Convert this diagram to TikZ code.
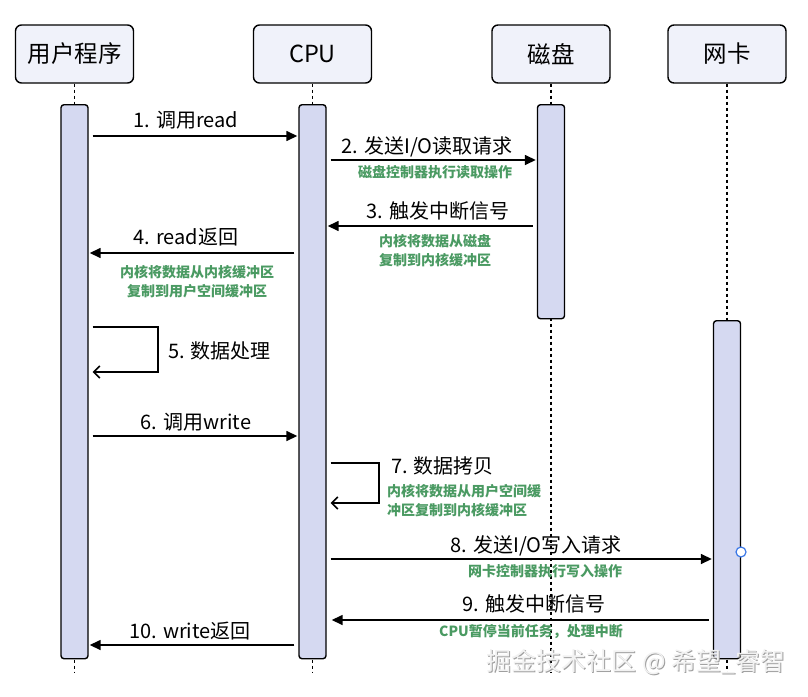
\documentclass[tikz,border=0pt]{standalone}
\usepackage{fontspec}
\setmainfont{Noto Sans CJK SC}
\usetikzlibrary{arrows.meta}
\definecolor{headfill}{HTML}{F0F2FA}
\definecolor{barfill}{HTML}{D5D9F1}
\definecolor{notegreen}{HTML}{4A9A62}
\definecolor{handle}{HTML}{3B78E7}
\begin{document}
\begin{tikzpicture}[x=1pt,y=-1pt,
  head/.style={draw,line width=1.4pt,rounded corners=6pt,fill=headfill,minimum width=118pt,minimum height=58pt,font=\fontsize{23.5}{26}\selectfont,inner sep=0pt},
  bar/.style={draw,line width=1.4pt,rounded corners=3pt,fill=barfill,minimum width=27pt,anchor=north,inner sep=0pt},
  life/.style={line width=1.4pt,dash pattern=on 3pt off 3pt},
  msg/.style={line width=1.5pt,-{Triangle[length=11pt,width=10pt]},shorten <=4pt,shorten >=1pt},
  selfmsg/.style={line width=1.5pt,-{Straight Barb[length=6pt,width=12pt]},shorten <=4pt,shorten >=4pt},
  lbl/.style={font=\fontsize{20}{22}\selectfont,inner sep=0pt},
  note/.style={font=\fontsize{14}{19}\selectfont\bfseries,text=notegreen,inner sep=0pt,align=center},
]
\useasboundingbox[fill=white] (0,0) rectangle (808,696);

% heads
\node[head] (h1) at (74.5,54) {用户程序};
\node[head] (h2) at (312.5,54) {CPU};
\node[head] (h3) at (551,54) {磁盘};
\node[head] (h4) at (727,54) {网卡};

% lifelines
\foreach \h in {h1,h2,h3,h4}{
  \draw[life] (\h.south) -- (\h.south |- 0,672);
}

% activation bars
\node[bar,minimum height=554pt] (b1) at (74.5,104) {};
\node[bar,minimum height=554pt] (b2) at (312.5,104) {};
\node[bar,minimum height=214pt] (b3) at (551,104) {};
\node[bar,minimum height=338pt] (b4) at (727,320) {};

% 1
\draw[msg] (b1.east |- 0,136) -- (b2.west |- 0,136);
\node[lbl] (l1) at (186,120) {1. 调用read};
% 2
\draw[msg] (b2.east |- 0,160) -- (b3.west |- 0,160);
\node[lbl] (l2) at (427,147) {2. 发送I/O读取请求};
\node[note] (n2) at (435,172) {磁盘控制器执行读取操作};
% 3
\draw[msg] (b3.west |- 0,226) -- (b2.east |- 0,226);
\node[lbl] (l3) at (438,211) {3. 触发中断信号};
\node[note] (n3) at (435,251) {内核将数据从磁盘\\复制到内核缓冲区};
% 4
\draw[msg] (b2.west |- 0,253) -- (b1.east |- 0,253);
\node[lbl] (l4) at (186,237) {4. read返回};
\node[note] (n4) at (197,282) {内核将数据从内核缓冲区\\复制到用户空间缓冲区};
% 5
\coordinate (c5) at (158,327);
\draw[selfmsg] (b1.east |- 0,327) -- (c5) -- (c5 |- 0,372) -- (b1.east |- 0,372);
\node[lbl,anchor=west] (l5) at (168,351) {5. 数据处理};
% 6
\draw[msg] (b1.east |- 0,436) -- (b2.west |- 0,436);
\node[lbl] (l6) at (196,422) {6. 调用write};
% 7
\coordinate (c7) at (379,463);
\draw[selfmsg] (b2.east |- 0,463) -- (c7) -- (c7 |- 0,503) -- (b2.east |- 0,503);
\node[lbl,anchor=west] (l7) at (391,466) {7. 数据拷贝};
\node[note,anchor=west,align=left] (n7) at (387,500.5) {内核将数据从用户空间缓\\冲区复制到内核缓冲区};
% 8
\draw[msg] (b2.east |- 0,559) -- (b4.west |- 0,559);
\node[lbl] (l8) at (536,546) {8. 发送I/O写入请求};
\node[note] (n8) at (545,571) {网卡控制器执行写入操作};
% 9
\draw[msg,shorten >=5pt] (b4.west |- 0,620) -- (b2.east |- 0,620);
\node[lbl] (l9) at (534,604) {9. 触发中断信号};
\node[note] (n9) at (531,632) {CPU暂停当前任务，处理中断};
% 10
\draw[msg] (b2.west |- 0,645) -- (b1.east |- 0,645);
\node[lbl] (l10) at (190,631) {10. write返回};

% selection handle
\node[circle,draw=handle,fill=white,line width=1.2pt,minimum size=10pt,inner sep=0pt] (hd) at (741,552) {};

% watermark
\node[font=\fontsize{25}{27}\selectfont,text=gray!75,anchor=east,inner sep=0pt] (wm0) at (787,663) {掘金技术社区 @ 希望\_睿智};
\node[font=\fontsize{25}{27}\selectfont,text=white!90!gray,anchor=east,inner sep=0pt] (wm) at (786,662) {掘金技术社区 @ 希望\_睿智};
\end{tikzpicture}
\end{document}
